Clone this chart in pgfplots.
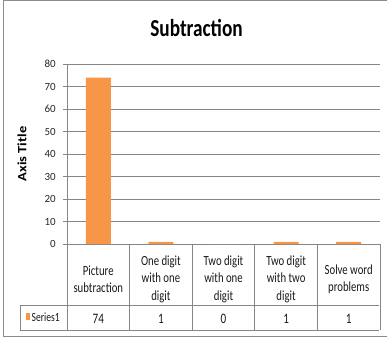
\documentclass[border=0pt]{standalone}
\usepackage{pgfplots}
\usepackage{pgfplotstable}
\pgfplotsset{compat=1.18}
\usepackage{fontspec}
\setmainfont{Carlito}
\newfontfamily\condfont{Carlito}[FakeStretch=0.77]
\newfontfamily\titlefont{Carlito}[FakeStretch=0.79]
\newfontfamily\tallfont{Carlito}[FakeStretch=1.15]

\definecolor{barorange}{HTML}{F79646}
\definecolor{gridgray}{HTML}{868686}
\definecolor{framegray}{HTML}{8C8C8C}

\pgfplotstableread{
idx value
0 74
1 1
2 0
3 1
4 1
}\datatable

\begin{document}
\begin{tikzpicture}[x=1bp,y=1bp]
\useasboundingbox (0,0) rectangle (387,340);
% chart area border
\draw[framegray, line width=1bp] (3,3.5) rectangle (400,339.5);

% title
\node[anchor=base, inner sep=0pt, font=\titlefont\bfseries\fontsize{24.5}{26}\selectfont]
  at (196.5,304) {Subtraction};

% plot area: x from 67 to 380, y from 96 to 276; category 0 sits at x = 98.3
\begin{axis}[
  at={(98.3bp,96bp)}, anchor=origin,
  scale only axis, width=313bp, height=180bp,
  xmin=-0.5, xmax=4.5, ymin=0, ymax=80,
  ytick={0,10,...,80},
  xtick={0,1,2,3,4},
  xticklabels={{Picture\\subtraction},{One digit\\with one\\digit},{Two digit\\with one\\digit},{Two digit\\with two\\digit},{Solve word\\problems}},
  xticklabel style={align=center, anchor=center, yshift=-31bp,
    font=\condfont\fontsize{14}{17.5}\selectfont, text=black!90},
  x tick style={draw=none},
  y tick style={gridgray, line width=0.8bp},
  tick align=outside, major tick length=4bp,
  /pgf/number format/assume math mode=true,
  yticklabel style={font=\fontsize{11}{11}\selectfont, text=black!85, inner sep=0pt, xshift=-7bp},
  ymajorgrids, grid style={gridgray, line width=0.8bp},
  axis lines*=left,
  axis line style={gridgray, line width=0.8bp},
  ylabel={Axis Title},
  ylabel style={at={(axis description cs:-0.1288,0.5)}, anchor=south, inner sep=0pt,
    font=\tallfont\bfseries\fontsize{12.7}{13}\selectfont},
  clip=false,
]
\addplot[ybar, bar width=25bp, fill=barorange, draw=none] table[x=idx, y=value] {\datatable};
\end{axis}

% data table grid
\foreach \k in {0,...,5} {
  \pgfmathsetmacro{\xk}{67+62.6*\k}
  \draw[gridgray, line width=0.8bp] (\xk,96) -- (\xk,10);
}
\draw[gridgray, line width=0.8bp] (20,34.3) -- (379,34.3);
\draw[gridgray, line width=0.8bp] (20,10) -- (379,10);
\draw[gridgray, line width=0.8bp] (20,10) -- (20,34.3);

% series key
\fill[barorange] (25.7,20) rectangle (29.5,27);
\node[anchor=base west, inner sep=0pt, font=\condfont\fontsize{12.5}{13}\selectfont, text=black!90]
  at (31.5,19) {Series1};

% values row
\foreach \i in {0,...,4} {
  \pgfplotstablegetelem{\i}{value}\of\datatable
  \pgfmathsetmacro{\xc}{67+62.6*(\i+0.5)}
  \node[anchor=base, inner sep=0pt, font=\condfont\fontsize{14.5}{15}\selectfont, text=black!90]
    at (\xc,16.7) {\pgfplotsretval};
}
\end{tikzpicture}
\end{document}
